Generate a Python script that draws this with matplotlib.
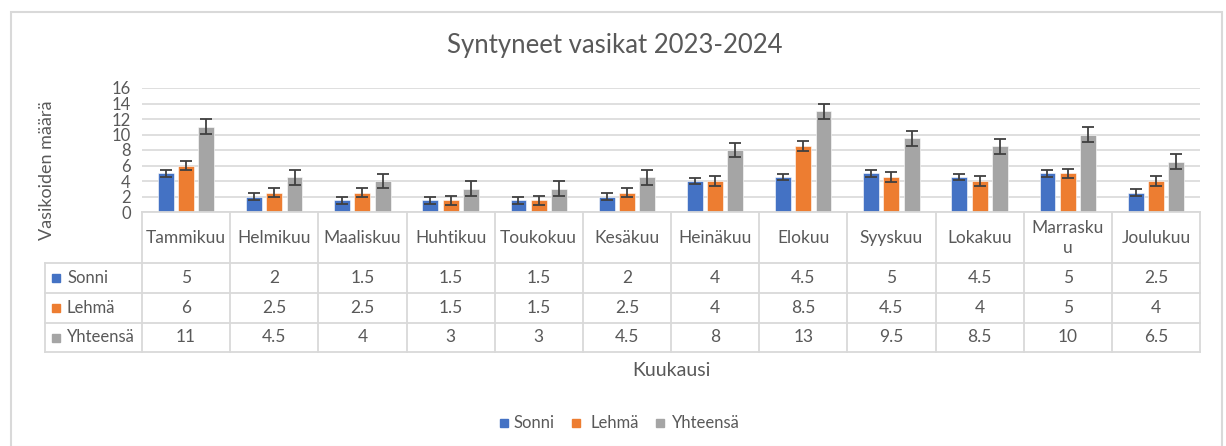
import matplotlib
matplotlib.use("Agg")
import matplotlib.pyplot as plt
from matplotlib.patches import Rectangle
from matplotlib.lines import Line2D

plt.rcParams['font.family'] = ['Lato', 'DejaVu Sans']

months = ["Tammikuu", "Helmikuu", "Maaliskuu", "Huhtikuu", "Toukokuu", "Kesäkuu",
          "Heinäkuu", "Elokuu", "Syyskuu", "Lokakuu", "Marrasku\nu", "Joulukuu"]
series_names = ["Sonni", "Lehmä", "Yhteensä"]
sonni = [5, 2, 1.5, 1.5, 1.5, 2, 4, 4.5, 5, 4.5, 5, 2.5]
lehma = [6, 2.5, 2.5, 1.5, 1.5, 2.5, 4, 8.5, 4.5, 4, 5, 4]
yhteensa = [11, 4.5, 4, 3, 3, 4.5, 8, 13, 9.5, 8.5, 10, 6.5]
errors = [0.43, 0.6, 0.96]
yticks = [0, 2, 4, 6, 8, 10, 12, 14, 16]
colors = ["#4472C4", "#ED7D31", "#A5A5A5"]
TXT = "#595959"
GRID = "#D9D9D9"

W, H = 1226, 446
fig = plt.figure(figsize=(W / 100, H / 100), dpi=100)

def fx(px):
    return px / W

def fy(py):
    return 1 - py / H

# chart border
fig.patches.append(Rectangle((fx(11), fy(447)), fx(1222) - fx(11), fy(12) - fy(447),
                             transform=fig.transFigure, fill=False, edgecolor=GRID, lw=1.5))

left_px, right_px, top_px, bot_px = 142, 1200, 88, 212
ax = fig.add_axes([fx(left_px), fy(bot_px), fx(right_px) - fx(left_px), fy(top_px) - fy(bot_px)])

n = len(months)
data = [sonni, lehma, yhteensa]
bw = 0.18
pitch = 0.23
x = list(range(n))
for k, (vals, c, e) in enumerate(zip(data, colors, errors)):
    xs = [i + (k - 1) * pitch for i in x]
    ax.bar(xs, vals, width=bw, color=c, edgecolor="white", linewidth=0.4, zorder=2)
    ax.errorbar(xs, vals, yerr=e, fmt="none", ecolor="#404040", elinewidth=1.3,
                capsize=4, capthick=1.3, zorder=3)

ax.set_xlim(-0.5, n - 0.5)
ax.set_ylim(0, 16)
ax.set_yticks(yticks)
ax.set_yticklabels([str(t) for t in yticks], color=TXT, fontsize=12)
ax.tick_params(axis="y", length=0, pad=8)
ax.set_xticks([])
ax.yaxis.grid(True, color=GRID, lw=1.2, zorder=0)
ax.set_axisbelow(True)
for s in ["top", "right", "left", "bottom"]:
    ax.spines[s].set_visible(False)

# table
col_w = (right_px - left_px) / n
rows_y = [212, 263, 293, 323, 352]
lab_left = 45
tl = dict(color=GRID, lw=1.3, transform=fig.transFigure)
fig.lines.append(Line2D([fx(left_px), fx(right_px)], [fy(212), fy(212)], **tl))
for yy in rows_y[1:]:
    fig.lines.append(Line2D([fx(lab_left), fx(right_px)], [fy(yy), fy(yy)], **tl))
for i in range(n + 1):
    xx = left_px + i * col_w
    fig.lines.append(Line2D([fx(xx), fx(xx)], [fy(212), fy(352)], **tl))
fig.lines.append(Line2D([fx(lab_left), fx(lab_left)], [fy(263), fy(352)], **tl))

for i, m in enumerate(months):
    cx = left_px + (i + 0.5) * col_w
    fig.text(fx(cx), fy(238), m, ha="center", va="center", color=TXT, fontsize=12.5,
             linespacing=1.35)
for r, (name, vals, c) in enumerate(zip(series_names, data, colors)):
    cy = (rows_y[r + 1] + rows_y[r + 2]) / 2
    fig.patches.append(Rectangle((fx(52), fy(cy + 4)), fx(8), fy(cy - 4) - fy(cy + 4),
                                 transform=fig.transFigure, color=c))
    fig.text(fx(67), fy(cy), name, ha="left", va="center", color=TXT, fontsize=12)
    for i, v in enumerate(vals):
        cx = left_px + (i + 0.5) * col_w
        s = str(int(v)) if float(v).is_integer() else str(v)
        fig.text(fx(cx), fy(cy), s, ha="center", va="center", color=TXT, fontsize=12.5)

fig.text(fx(615), fy(46), "Syntyneet vasikat 2023-2024", ha="center", va="center",
         color=TXT, fontsize=18.5)
fig.text(fx(47), fy(170), "Vasikoiden määrä", ha="center", va="center", rotation=90,
         color=TXT, fontsize=13)
fig.text(fx(671), fy(370), "Kuukausi", ha="center", va="center", color=TXT, fontsize=14)

leg_items = [(504, 514), (576, 590), (660, 672)]
for (sx, tx), name, c in zip(leg_items, series_names, colors):
    fig.patches.append(Rectangle((fx(sx - 4), fy(427)), fx(8), fy(419) - fy(427),
                                 transform=fig.transFigure, color=c))
    fig.text(fx(tx), fy(423), name, ha="left", va="center", color=TXT, fontsize=12)

fig.savefig("out.png", dpi=100)
